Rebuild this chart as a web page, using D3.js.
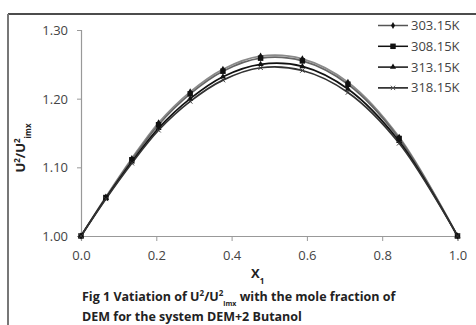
<!DOCTYPE html>
<html>
<head>
<meta charset="utf-8">
<script src="https://cdn.jsdelivr.net/npm/d3@7"></script>
<style>
  body { margin: 0; background: #fff; }
  text { font-family: 'Open Sans', 'Liberation Sans', sans-serif; }
</style>
</head>
<body>
<script>
// Data
const moleFraction = [0, 0.066, 0.135, 0.206, 0.29, 0.377, 0.477, 0.588, 0.709, 0.845, 1.0];
const seriesNames = ['303.15K', '308.15K', '313.15K', '318.15K'];
const u303 = [1.000, 1.057, 1.113, 1.165, 1.210, 1.243, 1.262, 1.258, 1.224, 1.144, 1.000];
const u308 = [1.000, 1.056, 1.111, 1.162, 1.207, 1.240, 1.259, 1.255, 1.221, 1.142, 1.000];
const u313 = [1.000, 1.055, 1.108, 1.157, 1.200, 1.232, 1.250, 1.247, 1.214, 1.138, 1.000];
const u318 = [1.000, 1.054, 1.106, 1.154, 1.196, 1.227, 1.245, 1.241, 1.209, 1.135, 1.000];
const xTicks = [0, 0.2, 0.4, 0.6, 0.8, 1.0];
const yTicks = [1.00, 1.10, 1.20, 1.30];

const seriesValues = [u303, u308, u313, u318];

// SVG canvas
const width = 476;
const height = 325;

const svg = d3.select('body')
  .append('svg')
    .attr('width', width)
    .attr('height', height);

// Frame
svg.append('line')
    .attr('x1', 8).attr('y1', 14)
    .attr('x2', width).attr('y2', 14)
    .attr('stroke', '#111')
    .attr('stroke-width', 1.5);
svg.append('line')
    .attr('x1', 8).attr('y1', 14)
    .attr('x2', 8).attr('y2', height)
    .attr('stroke', '#777')
    .attr('stroke-width', 2);

// Scales
const x = d3.scaleLinear().domain([0, 1]).range([81, 457.5]);
const y = d3.scaleLinear().domain([1.0, 1.3]).range([236, 30]);

// Axes
const xAxis = svg.append('g')
    .attr('transform', `translate(0, ${y(1.0)})`)
    .call(d3.axisBottom(x).tickValues(xTicks).tickFormat(d3.format('.1f')).tickSize(5).tickPadding(10));
const yAxis = svg.append('g')
    .attr('transform', `translate(${x(0)}, 0)`)
    .call(d3.axisLeft(y).tickValues(yTicks).tickFormat(d3.format('.2f')).tickSize(4).tickPadding(9));

[xAxis, yAxis].forEach((g) => {
  g.select('.domain').attr('stroke', '#999').attr('stroke-width', 1.2);
  g.selectAll('.tick line').attr('stroke', '#999');
  g.selectAll('.tick text')
      .attr('fill', '#444')
      .style('font-size', '13px');
});
yAxis.selectAll('.tick text').attr('dy', '0.35em');

// Lines
const colors = ['#8a8a8a', '#666', '#111', '#333'];
const line = d3.line()
  .x((d) => x(d[0]))
  .y((d) => y(d[1]))
  .curve(d3.curveCatmullRom.alpha(0.5));

const seriesData = seriesValues.map((vals) => vals.map((v, i) => [moleFraction[i], v]));

svg.selectAll('path.series')
    .data(seriesData)
  .enter().append('path')
    .attr('class', 'series')
    .attr('fill', 'none')
    .attr('stroke', (d, i) => colors[i])
    .attr('stroke-width', 1.7)
    .attr('d', line);

// Markers
const symbols = [
  d3.symbol().type(d3.symbolDiamond).size(14),
  d3.symbol().type(d3.symbolSquare).size(30),
  d3.symbol().type(d3.symbolTriangle).size(16),
  d3.symbol().type(d3.symbolTimes).size(14),
];

seriesData.forEach((pts, s) => {
  svg.selectAll(`path.m${s}`)
      .data(pts)
    .enter().append('path')
      .attr('class', `m${s}`)
      .attr('transform', (d) => `translate(${x(d[0])}, ${y(d[1])})`)
      .attr('d', symbols[s])
      .attr('fill', s === 3 ? 'none' : '#111')
      .attr('stroke', s === 3 ? '#333' : 'none')
      .attr('stroke-width', 1);
});

// Legend
const legend = svg.selectAll('g.legend')
    .data(seriesNames)
  .enter().append('g')
    .attr('class', 'legend')
    .attr('transform', (d, i) => `translate(378, ${25.5 + i * 20.8})`);

legend.append('line')
    .attr('x1', 0).attr('x2', 30)
    .attr('stroke', (d, i) => i === 0 ? '#555' : '#111')
    .attr('stroke-width', 1.5);
legend.append('path')
    .attr('transform', 'translate(15, 0)')
    .attr('d', (d, i) => symbols[i]())
    .attr('fill', (d, i) => i === 3 ? 'none' : '#111')
    .attr('stroke', (d, i) => i === 3 ? '#555' : 'none');
legend.append('text')
    .attr('x', 33)
    .attr('dy', '0.35em')
    .attr('fill', '#444')
    .style('font-size', '13px')
    .text((d) => d);

// Y axis title
const yTitle = svg.append('text')
    .attr('transform', 'translate(25, 148) rotate(-90)')
    .attr('text-anchor', 'middle')
    .attr('fill', '#222')
    .style('font-size', '13px')
    .style('font-weight', 'bold');
yTitle.append('tspan').text('U');
yTitle.append('tspan').attr('baseline-shift', 'super').style('font-size', '8px').text('2');
yTitle.append('tspan').text('/U');
yTitle.append('tspan').attr('baseline-shift', 'super').style('font-size', '8px').text('2');
yTitle.append('tspan').attr('baseline-shift', 'sub').style('font-size', '8px').text('imx');

// X axis title
const xTitle = svg.append('text')
    .attr('x', 251)
    .attr('y', 278)
    .attr('fill', '#222')
    .style('font-size', '13px')
    .style('font-weight', 'bold');
xTitle.append('tspan').text('X');
xTitle.append('tspan').attr('baseline-shift', 'sub').style('font-size', '8px').text('1');

// Caption
const caption = svg.append('text')
    .attr('x', 82)
    .attr('y', 301)
    .attr('fill', '#222')
    .style('font-size', '12.5px')
    .style('font-weight', 'bold');
caption.append('tspan').text('Fig 1 Vatiation of U');
caption.append('tspan').attr('baseline-shift', 'super').style('font-size', '8px').text('2');
caption.append('tspan').text('/U');
caption.append('tspan').attr('baseline-shift', 'super').style('font-size', '8px').text('2');
caption.append('tspan').attr('baseline-shift', 'sub').style('font-size', '7px').text('imx');
caption.append('tspan').text(' with the mole fraction of');

svg.append('text')
    .attr('x', 82)
    .attr('y', 321)
    .attr('fill', '#222')
    .style('font-size', '12.5px')
    .style('font-weight', 'bold')
    .text('DEM for the system DEM+2 Butanol');
</script>
</body>
</html>
